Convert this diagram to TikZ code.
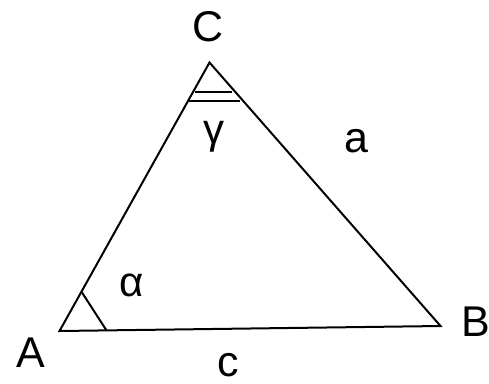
\documentclass[tikz,border=0pt]{standalone}
\usepackage{fontspec}
\setmainfont{Liberation Sans}
\begin{document}
\begin{tikzpicture}[x=1pt,y=-1pt,
  edge/.style={line width=2pt,line join=miter},
  anglemark/.style={line width=2pt},
  lbl/.style={inner sep=0pt,anchor=center,font=\fontsize{43}{45}\selectfont},
  glbl/.style={inner sep=0pt,anchor=center,font=\fontsize{42}{44}\selectfont}]
\useasboundingbox (0,0) rectangle (489,383);
\coordinate (A) at (59.5,331);
\coordinate (B) at (440.5,326);
\coordinate (C) at (209.5,62.5);
\draw[edge] (A) -- (B) -- (C) -- cycle;
% angle marks
\coordinate (a1) at (82,292.5);
\coordinate (a2) at (106.5,330.4);
\coordinate (c1) at (195,91.7);
\coordinate (c2) at (231.5,91.7);
\coordinate (c3) at (188,101);
\coordinate (c4) at (240,101);
\draw[anglemark] (a1) -- (a2);
\draw[anglemark] (c1) -- (c2);
\draw[anglemark] (c3) -- (c4);
\node[lbl] (lC) at (208,26.5) {C};
\node[lbl] (lA) at (31,352.5) {A};
\node[lbl] (lB) at (475.5,322) {B};
\node[lbl] (la) at (356.5,141.5) {a};
\node[lbl] (lc) at (228.7,365) {c};
\node[glbl] (lg) at (213.7,136.7) {γ};
\node[glbl] (lal) at (132,285) {α};
\end{tikzpicture}
\end{document}
